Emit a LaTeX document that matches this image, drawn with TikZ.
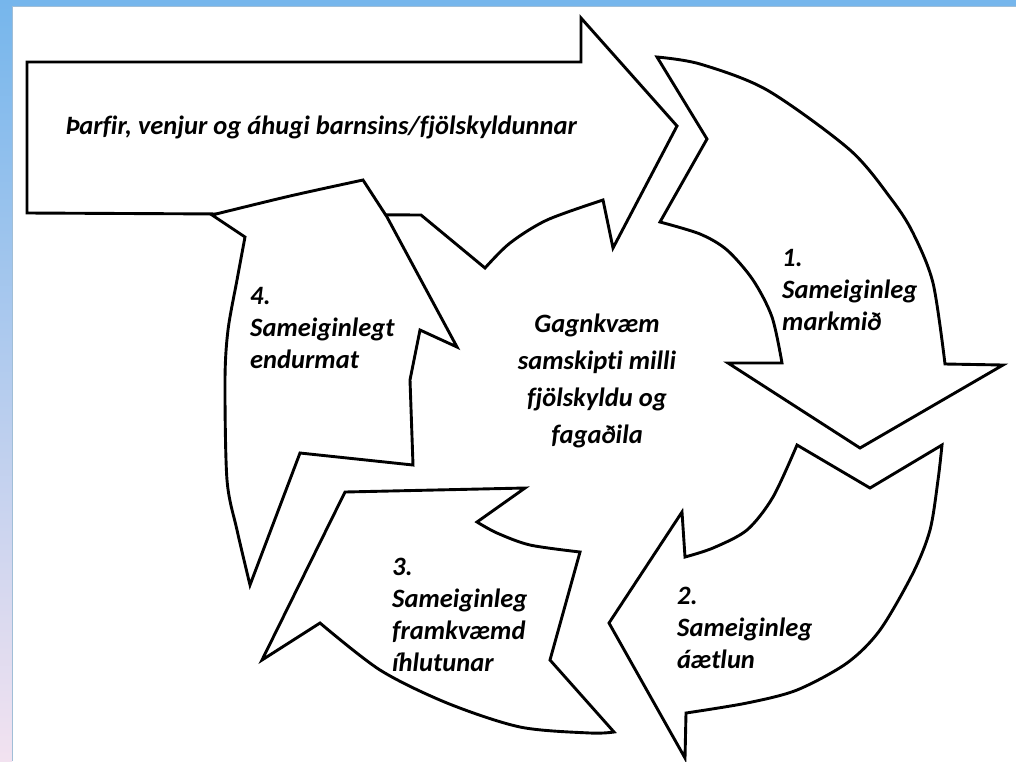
\documentclass[tikz,border=0pt]{standalone}
\usepackage{fontspec}
\setmainfont{Carlito}[Ligatures=NoCommon]
\usepackage{tikz}
\usetikzlibrary{positioning}
\definecolor{frameblue}{RGB}{118,182,236}
\definecolor{framepink}{RGB}{242,226,240}
\definecolor{frameline}{RGB}{160,190,215}
\tikzset{
	blockarrow/.style={
		draw=black,
		fill=white,
		line width=2.9pt,
		line join=miter
	},
	lbl/.style={
		font=\fontsize{26.5}{32}\selectfont\bfseries\itshape,
		align=left,
		anchor=west,
		inner sep=0pt
	},
	midtext/.style={
		font=\fontsize{26.5}{37}\selectfont\bfseries\itshape,
		align=center,
		inner sep=0pt
	}
}

\begin{document}
\begin{tikzpicture}[x=1pt, y=-1pt]
	\useasboundingbox (0,0) rectangle (1016,761);
	\fill[frameblue] (0,0) rectangle (1016,6);
	\shade[top color=frameblue, bottom color=framepink] (0,0) rectangle (12,761);
	\draw[frameline, line width=1pt] (12.5,761) -- (12.5,6.5) -- (1016,6.5);

	\draw[blockarrow] (27,62) -- (581,62) -- (581,18) -- (677,126) -- (613,248) -- (603,200)
		-- plot[smooth] coordinates {(603,200) (547,220) (510,243) (485,268)}
		-- (421,215) -- (27,213) -- cycle;
	\draw[blockarrow] (212,215) -- (245,237)
		-- plot[smooth] coordinates {(245,237) (237,280) (228,330) (225,380) (227,480) (237,530) (250,585)}
		-- (300,453) -- (413,465) -- (410,380) -- (420,330) -- (457,347) -- (387,217) -- (363,180)
		-- plot[smooth] coordinates {(363,180) (290,196) (212,215)} -- cycle;
	\draw[blockarrow] (657,57)
		-- plot[smooth] coordinates {(657,57) (700,64) (767,90) (850,150) (892,200) (913,233) (933,283) (945,364)}
		-- (1003,365) -- (860,448) -- (728,363) -- (782,363)
		-- plot[smooth] coordinates {(782,363) (772,317) (753,280) (727,250) (700,234) (660,222)}
		-- (707,139) -- cycle;
	\draw[blockarrow] (797,445) -- (870,488) -- (942,445)
		-- plot[smooth] coordinates {(942,445) (938,480) (930,530) (913,573) (880,630) (847,663) (797,690) (747,703) (686,713)}
		-- (685,758) -- (609,623) -- (682,512) -- (685,557)
		-- plot[smooth] coordinates {(685,557) (713,548) (747,530) (773,497) (797,445)} -- cycle;
	\draw[blockarrow] (345,492) -- (525,488) -- (477,522)
		-- plot[smooth] coordinates {(477,522) (497,533) (530,545) (580,552)}
		-- (550,660) -- (614,732)
		-- plot[smooth] coordinates {(614,732) (590,733) (520,727) (447,703) (380,670) (320,623)}
		-- (262,660) -- cycle;

	\node[lbl] (needs) at (65,127) {Þarfir, venjur og áhugi barnsins/fjölskyldunnar};
	\node[midtext] (centre) at (597,381) {Gagnkvæm\\samskipti milli\\fjölskyldu og\\fagaðila};
	\node[lbl] (goal) at (782,290) {1.\\Sameiginleg\\markmið};
	\node[lbl] (plan) at (677,628) {2.\\Sameiginleg\\áætlun};
	\node[lbl] (act) at (392,615) {3.\\Sameiginleg\\framkvæmd\\íhlutunar};
	\node[lbl] (review) at (250,328) {4.\\Sameiginlegt\\endurmat};
\end{tikzpicture}
\end{document}
